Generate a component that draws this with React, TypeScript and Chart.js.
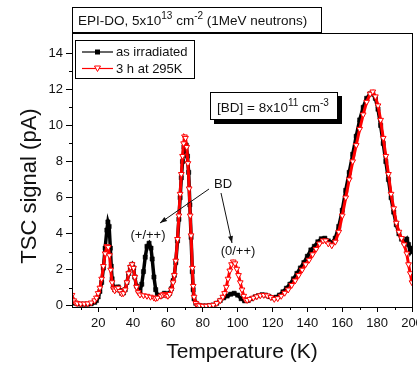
import React, { useEffect, useRef } from 'react';
import { Chart, registerables } from 'chart.js';

Chart.register(...registerables);

// ---- Data ----
const tempIrradiated = [
  5, 6, 7, 8, 10, 12, 14, 16, 18, 19, 20, 21, 22, 23, 24, 25, 25.6, 26.3, 27, 27.5, 28, 28.7,
  29.5, 30.5, 31.5, 32.5, 33.5, 34.5, 35.5, 36.5, 37.5, 38.5, 39.5, 40.3, 41, 42, 43, 44, 45,
  46, 47, 48, 49.2, 50.3, 51, 52, 53, 54, 55, 56, 57, 58, 59, 60, 61, 62, 63, 63.7, 64.5, 65.5,
  66.3, 67, 67.7, 68.4, 69.2, 69.8, 70.5, 71.2, 71.9, 72.6, 73.3, 74, 74.5, 75, 76, 77, 78, 80,
  82, 84, 86, 88, 90, 92, 94, 96, 98, 100, 102, 104, 106, 108, 110, 112, 114, 116, 118, 120,
  122, 124, 126, 128, 130, 132, 134, 136, 138, 140, 142, 144, 146, 148, 150, 152, 154, 156, 158,
  160, 162, 164, 166, 168, 170, 172, 174, 176, 177.5, 179, 180.5, 182, 183.5, 185, 186.5, 188,
  189.5, 191, 192.5, 194, 195.5, 197, 198, 199, 200,
];
const signalIrradiated = [
  0.35, 0.2, 0.15, 0.12, 0.1, 0.1, 0.1, 0.12, 0.2, 0.3, 0.5, 0.8, 1.3, 2.1, 3.2, 4.2, 4.65, 4.4, 3.2, 2.2, 1.5, 1.05,
  0.9, 1.0, 1.05, 0.85, 0.7, 0.72, 0.9, 1.3, 1.8, 2.15, 2.3, 2.1, 1.6, 1.1, 0.85, 0.8, 1.2,
  1.9, 2.7, 3.3, 3.47, 3.2, 2.6, 1.6, 0.9, 0.6, 0.55, 0.55, 0.6, 0.7, 0.65, 0.6, 0.7, 0.95, 1.4, 1.7, 2.4, 3.6,
  4.8, 6.0, 7.1, 8.0, 8.8, 8.95, 8.9, 8.3, 7.4, 5.6, 3.8, 1.9, 0.9, 0.4, 0.15, 0.05, 0.02, 0.0,
  0.0, 0.02, 0.05, 0.15, 0.3, 0.45, 0.55, 0.65, 0.7, 0.6, 0.4, 0.28, 0.3, 0.4, 0.5, 0.57, 0.62, 0.6, 0.52, 0.45,
  0.48, 0.6, 0.78, 0.98, 1.2, 1.5, 1.8, 2.1, 2.4, 2.75, 3.1, 3.3, 3.55, 3.72, 3.75, 3.6, 3.5, 3.75, 4.4,
  5.3, 6.4, 7.4, 8.4, 9.4, 10.3, 11.0, 11.5, 11.75, 11.75, 11.5, 10.9, 10.0, 9.0, 8.0, 7.0, 6.0,
  5.2, 4.5, 4.0, 3.7, 3.5, 3.7, 3.4, 3.0, 3.2,
];

const temp295K = [
  5, 6, 7, 8, 10, 12, 14, 16, 18, 19, 20, 21, 22, 23, 24, 25, 25.8, 26.5, 27.2, 28, 28.8, 29.5,
  30.5, 31.5, 32.5, 33.5, 34.5, 35.5, 36.5, 37.5, 38.5, 39.5, 40.3, 41, 42, 43, 44, 46, 48, 50,
  52, 53, 54, 56, 57, 58, 59, 60, 61, 62, 63, 63.7, 64.5, 65.5, 66.3, 67, 67.7, 68.4, 69, 69.5,
  70.1, 70.8, 71.5, 72.2, 72.8, 73.3, 74, 74.5, 75, 76, 77, 78, 80, 82, 84, 86, 88, 90, 91.5,
  92.5, 93.5, 94.5, 95.5, 96.5, 97.5, 98.5, 99.5, 100.5, 101.5, 102.5, 103.5, 104.5, 105.5, 107,
  109, 111, 113, 115, 117, 119, 121, 123, 125, 127, 129, 131, 133, 135, 137, 139, 141, 143, 145,
  147, 149, 150.5, 152, 154, 156, 158, 160, 162, 164, 166, 168, 170, 172, 174, 176, 177.5, 179,
  180.5, 182, 183.5, 185, 186.5, 188, 189.5, 191, 192.5, 194, 195.5, 197, 198, 199, 200,
];
const signal295K = [
  0.6, 0.3, 0.18, 0.14, 0.12, 0.12, 0.13, 0.18, 0.3, 0.45, 0.7, 1.0, 1.5, 2.2, 2.9, 3.3, 3.25, 2.8, 2.0, 1.3, 0.95, 0.85,
  0.95, 1.0, 0.82, 0.68, 0.7, 0.9, 1.3, 1.8, 2.15, 2.3, 2.1, 1.6, 1.05, 0.75, 0.62, 0.58, 0.55, 0.5,
  0.45, 0.42, 0.45, 0.55, 0.62, 0.65, 0.6, 0.55, 0.65, 0.9, 1.3, 1.7, 2.5, 3.7, 5.0, 6.2, 7.3, 8.3, 9.0, 9.38,
  9.3, 8.8, 7.9, 6.5, 5.0, 3.9, 2.1, 1.1, 0.5, 0.15, 0.05, 0.02, 0.0, 0.0, 0.02, 0.05, 0.15, 0.3, 0.5,
  0.7, 1.05, 1.5, 1.95, 2.3, 2.45, 2.35, 2.05, 1.7, 1.3, 0.9, 0.55, 0.35, 0.32, 0.38,
  0.45, 0.52, 0.58, 0.6, 0.57, 0.48, 0.38, 0.42, 0.55, 0.72, 0.9, 1.15, 1.4, 1.7, 2.0, 2.3, 2.55, 2.85, 3.15,
  3.45, 3.62, 3.62, 3.45, 3.35, 3.55, 4.1, 5.0, 6.0, 7.0, 8.0, 8.9, 9.8, 10.6, 11.3, 11.75, 11.87, 11.6,
  11.1, 10.3, 9.3, 8.3, 7.3, 6.2, 5.4, 4.6, 4.1, 3.75, 3.4, 2.9, 2.3, 1.8, 1.3,
];

const xTickValues = [20, 40, 60, 80, 100, 120, 140, 160, 180, 200];
const xMinorValues = [10, 30, 50, 70, 90, 110, 130, 150, 170, 190];
const yTickValues = [0, 2, 4, 6, 8, 10, 12, 14];
const yMinorValues = [1, 3, 5, 7, 9, 11, 13];

const seriesNames = ['as irradiated', '3 h at 295K'];

const FONT = '"Liberation Sans", Arial, Helvetica, sans-serif';
const INK = '#111';

type Part = [string, boolean];

function drawRich(ctx: CanvasRenderingContext2D, x: number, y: number, parts: Part[], size: number, supSize: number) {
  let cx = x;
  ctx.textAlign = 'left';
  ctx.textBaseline = 'alphabetic';
  for (const [t, sup] of parts) {
    const s = sup ? supSize : size;
    ctx.font = `${s}px ${FONT}`;
    ctx.fillText(t, cx, sup ? y - size * 0.42 : y);
    cx += ctx.measureText(t).width;
  }
  return cx;
}

function arrow(ctx: CanvasRenderingContext2D, x1: number, y1: number, x2: number, y2: number) {
  ctx.beginPath();
  ctx.moveTo(x1, y1);
  ctx.lineTo(x2, y2);
  ctx.lineWidth = 1;
  ctx.strokeStyle = INK;
  ctx.stroke();
  const a = Math.atan2(y2 - y1, x2 - x1);
  const len = 7;
  const w = 2.5;
  ctx.beginPath();
  ctx.moveTo(x2, y2);
  ctx.lineTo(x2 - len * Math.cos(a) + w * Math.sin(a), y2 - len * Math.sin(a) - w * Math.cos(a));
  ctx.lineTo(x2 - len * Math.cos(a) - w * Math.sin(a), y2 - len * Math.sin(a) + w * Math.cos(a));
  ctx.closePath();
  ctx.fillStyle = INK;
  ctx.fill();
}

const decorPlugin = {
  id: 'decor',
  afterDraw(chart: any) {
    const ctx: CanvasRenderingContext2D = chart.ctx;
    const { left, right, top, bottom } = chart.chartArea;
    const xs = chart.scales.x;
    const ys = chart.scales.y;
    ctx.save();

    // frame
    ctx.strokeStyle = '#000';
    ctx.lineWidth = 1;
    ctx.strokeRect(Math.round(left) + 0.5, Math.round(top) + 0.5, Math.round(right - left), Math.round(bottom - top));

    // minor ticks
    ctx.beginPath();
    for (const v of xMinorValues) {
      const px = Math.round(xs.getPixelForValue(v)) + 0.5;
      ctx.moveTo(px, bottom);
      ctx.lineTo(px, bottom + 3);
    }
    for (const v of yMinorValues) {
      const py = Math.round(ys.getPixelForValue(v)) + 0.5;
      ctx.moveTo(left - 3, py);
      ctx.lineTo(left, py);
    }
    ctx.stroke();

    // title box
    ctx.fillStyle = '#fff';
    ctx.fillRect(72.5, 7.5, 249, 25);
    ctx.strokeStyle = '#000';
    ctx.strokeRect(72.5, 7.5, 249, 25);
    ctx.fillStyle = INK;
    drawRich(ctx, 78, 25, [
      ['EPI-DO, 5x10', false], ['13', true], [' cm', false], ['-2', true], [' (1MeV neutrons)', false],
    ], 13.5, 10);

    // legend box
    ctx.fillStyle = '#fff';
    ctx.fillRect(75.5, 40.5, 119, 38);
    ctx.strokeStyle = '#000';
    ctx.strokeRect(75.5, 40.5, 119, 38);
    const ly1 = 52;
    const ly2 = 68.5;
    ctx.beginPath();
    ctx.moveTo(82, ly1); ctx.lineTo(113, ly1);
    ctx.strokeStyle = '#000';
    ctx.lineWidth = 1.2;
    ctx.stroke();
    ctx.fillStyle = '#000';
    ctx.fillRect(95, ly1 - 2.5, 5, 5);
    ctx.beginPath();
    ctx.moveTo(82, ly2); ctx.lineTo(113, ly2);
    ctx.strokeStyle = '#ff0000';
    ctx.stroke();
    ctx.beginPath();
    ctx.moveTo(94.5, ly2 - 2.5); ctx.lineTo(100.5, ly2 - 2.5); ctx.lineTo(97.5, ly2 + 3);
    ctx.closePath();
    ctx.fillStyle = '#fff';
    ctx.fill();
    ctx.lineWidth = 1;
    ctx.strokeStyle = '#ff0000';
    ctx.stroke();
    ctx.fillStyle = INK;
    ctx.font = `13px ${FONT}`;
    ctx.textBaseline = 'middle';
    ctx.textAlign = 'left';
    ctx.fillText(seriesNames[0], 116, ly1 + 0.5);
    ctx.fillText(seriesNames[1], 116, ly2 + 0.5);

    // annotation box with shadow
    ctx.fillStyle = '#000';
    ctx.fillRect(214, 96, 128, 28);
    ctx.fillStyle = '#fff';
    ctx.fillRect(210.5, 92.5, 127, 27);
    ctx.strokeStyle = '#000';
    ctx.lineWidth = 1;
    ctx.strokeRect(210.5, 92.5, 127, 27);
    ctx.fillStyle = INK;
    drawRich(ctx, 217, 112, [['[BD] = 8x10', false], ['11', true], [' cm', false], ['-3', true]], 13.5, 10);

    // labels
    ctx.font = `13px ${FONT}`;
    ctx.textAlign = 'center';
    ctx.textBaseline = 'middle';
    ctx.fillStyle = INK;
    ctx.fillText('BD', 223, 184);
    ctx.fillText('(+/++)', 148, 235);
    ctx.fillText('(0/++)', 238, 251);
    arrow(ctx, 209, 189, 160, 223);
    arrow(ctx, 221, 193, 232, 243);

    // axis titles
    ctx.fillStyle = INK;
    ctx.font = `21px ${FONT}`;
    ctx.textAlign = 'center';
    ctx.textBaseline = 'middle';
    ctx.fillText('Temperature (K)', 242, 352);
    ctx.save();
    ctx.translate(30, 186);
    ctx.rotate(-Math.PI / 2);
    ctx.font = `22px ${FONT}`;
    ctx.fillText('TSC signal (pA)', 0, 0);
    ctx.restore();

    ctx.restore();
  },
};

export default function App() {
  const ref = useRef<HTMLCanvasElement | null>(null);

  useEffect(() => {
    if (!ref.current) return;
    const chart = new Chart(ref.current, {
      type: 'line',
      data: {
        datasets: [
          {
            label: seriesNames[0],
            data: tempIrradiated.map((t, i) => ({ x: t, y: signalIrradiated[i] })),
            borderColor: '#000',
            backgroundColor: '#000',
            borderWidth: 3.5,
            pointStyle: 'rect',
            pointRadius: 3,
            pointBorderWidth: 0.5,
            pointBackgroundColor: '#000',
            pointBorderColor: '#000',
            order: 2,
          },
          {
            label: seriesNames[1],
            data: temp295K.map((t, i) => ({ x: t, y: signal295K[i] })),
            borderColor: '#ff0000',
            backgroundColor: '#fff',
            borderWidth: 3,
            pointStyle: 'triangle',
            rotation: 180,
            pointRadius: 3.3,
            pointBorderWidth: 1,
            pointBackgroundColor: '#fff',
            pointBorderColor: '#ff0000',
            order: 1,
          },
        ],
      },
      options: {
        animation: false,
        responsive: false,
        devicePixelRatio: 1,
        layout: { padding: { left: 0, right: 5, top: 33, bottom: 0 } },
        plugins: { legend: { display: false }, tooltip: { enabled: false }, title: { display: false } },
        scales: {
          x: {
            type: 'linear',
            min: 5,
            max: 200,
            afterBuildTicks: (s: any) => { s.ticks = xTickValues.map((v) => ({ value: v })); },
            afterFit: (s: any) => { s.height = 60; s.paddingLeft = 0; s.paddingRight = 0; },
            grid: { display: true, drawOnChartArea: false, drawTicks: true, tickLength: 5, color: '#000' },
            border: { display: true, color: '#000' },
            ticks: { font: { family: FONT, size: 13 }, color: INK, padding: 4, maxRotation: 0, autoSkip: false },
          },
          y: {
            type: 'linear',
            min: -0.06,
            max: 15.12,
            afterBuildTicks: (s: any) => { s.ticks = yTickValues.map((v) => ({ value: v })); },
            afterFit: (s: any) => { s.width = 72; s.paddingTop = 0; s.paddingBottom = 0; },
            grid: { display: true, drawOnChartArea: false, drawTicks: true, tickLength: 6, color: '#000' },
            border: { display: true, color: '#000' },
            ticks: { font: { family: FONT, size: 13 }, color: INK, padding: 3, autoSkip: false },
          },
        },
      },
      plugins: [decorPlugin],
    } as any);
    return () => chart.destroy();
  }, []);

  return (
    <div style={{ position: 'fixed', left: 0, top: 0, width: 417, height: 367, background: '#fff' }}>
      <canvas ref={ref} width={417} height={367} style={{ display: 'block', width: 417, height: 367 }} />
    </div>
  );
}
